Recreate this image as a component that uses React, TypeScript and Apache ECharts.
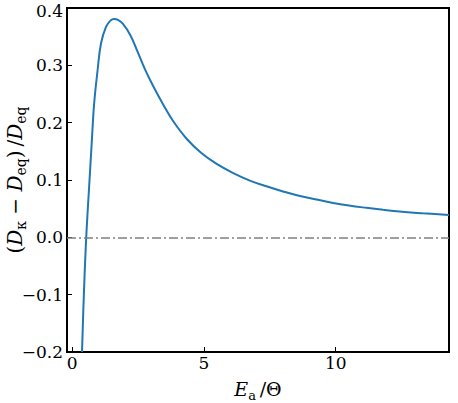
import React, { useEffect, useRef } from "react";
import * as echarts from "echarts";

const xValues = [
  0.37, 0.44, 0.53, 0.655, 0.74, 0.83, 0.96, 1.09, 1.28, 1.45, 1.59, 1.75,
  1.91, 2.2, 2.45, 2.77, 3.08, 3.46, 3.84, 4.34, 4.9, 5.48, 6.11, 6.74, 7.37,
  8.0, 8.64, 9.27, 9.9, 10.5, 11.16, 11.8, 12.42, 13.3, 14.3,
];
const yValues = [
  -0.2, -0.1, 0.0, 0.1, 0.166, 0.233, 0.291, 0.338, 0.367, 0.378, 0.381,
  0.379, 0.373, 0.353, 0.327, 0.292, 0.263, 0.231, 0.202, 0.172, 0.147, 0.128,
  0.112, 0.099, 0.089, 0.08, 0.072, 0.066, 0.06, 0.0555, 0.0515, 0.048, 0.045,
  0.042, 0.039,
];
const xTicks = [0, 5, 10];
const yMin = -0.2;
const yMax = 0.4;
const refLineY = 0;

const FONT = "DejaVu Serif";

const makeRich = (base: number, sub: number, lh: number) => ({
  i: { fontFamily: FONT, fontStyle: "italic", fontSize: base, lineHeight: lh, verticalAlign: "middle", color: "#000" },
  s: { fontFamily: FONT, fontSize: sub, lineHeight: sub, verticalAlign: "bottom", color: "#000" },
  n: { fontFamily: FONT, fontSize: base, lineHeight: lh, verticalAlign: "middle", color: "#000" },
});

export default function App() {
  const ref = useRef<HTMLDivElement>(null);
  useEffect(() => {
    if (!ref.current) return;
    const chart = echarts.init(ref.current, null, { renderer: "svg" });
    const data = xValues.map((x, i) => [x, yValues[i]]);
    chart.setOption({
      animation: false,
      backgroundColor: "#fff",
      grid: {
        left: 67,
        right: 9,
        top: 8,
        bottom: 51,
        show: true,
        borderColor: "#000",
        borderWidth: 2,
        backgroundColor: "transparent",
        containLabel: false,
        outerBoundsMode: "none",
      },
      xAxis: {
        type: "value",
        min: -0.2,
        max: 14.3,
        splitLine: { show: false },
        axisLine: { show: true, onZero: false, lineStyle: { color: "#000", width: 2 } },
        axisTick: {
          show: true,
          inside: true,
          length: 5,
          customValues: xTicks,
          lineStyle: { color: "#000", width: 1 },
        },
        axisLabel: {
          customValues: xTicks,
          color: "#000",
          fontFamily: FONT,
          fontSize: 17,
          margin: 2,
        },
        name: "{i|E}{s|a}{n|\u2009/Θ}",
        nameLocation: "middle",
        nameGap: 24,
        nameMoveOverlap: false,
        nameTextStyle: { color: "#000", rich: makeRich(19, 13, 26) },
      },
      yAxis: {
        type: "value",
        min: yMin,
        max: yMax,
        interval: 0.1,
        splitLine: { show: false },
        axisLine: { show: true, onZero: false, lineStyle: { color: "#000", width: 2 } },
        axisTick: {
          show: true,
          inside: true,
          length: 5,
          lineStyle: { color: "#000", width: 1 },
        },
        axisLabel: {
          color: "#000",
          fontFamily: FONT,
          fontSize: 17,
          lineHeight: 12,
          margin: 4,
          showMinLabel: true,
          showMaxLabel: true,
          formatter: (v: number) => {
            const s = (v < -1e-9 ? "\u2212" : "") + Math.abs(v).toFixed(1);
            return v > yMax - 1e-9 ? "{t|" + s + "}" : s;
          },
          rich: {
            t: {
              fontFamily: FONT,
              fontSize: 17,
              lineHeight: 10,
              padding: [6, 0, 0, 0],
              color: "#000",
            },
          },
        },
        name: "{n|(}{i|D}{s|κ}{n| − }{i|D}{s|eq}{n|)\u2009/}{i|D}{s|eq}",
        nameLocation: "middle",
        nameRotate: 90,
        nameGap: 39,
        nameMoveOverlap: false,
        nameTextStyle: { color: "#000", rich: makeRich(20, 14, 26) },
      },
      series: [
        {
          type: "line",
          data,
          showSymbol: false,
          smooth: 0.4,
          lineStyle: { color: "#1f77b4", width: 2 },
          itemStyle: { color: "#1f77b4" },
          markLine: {
            silent: true,
            symbol: "none",
            label: { show: false },
            lineStyle: { type: [9, 3, 2, 3], color: "#808080", width: 1.5 },
            data: [{ yAxis: refLineY }],
          },
        },
      ],
    });
    return () => chart.dispose();
  }, []);
  return <div ref={ref} style={{ width: 458, height: 403, position: "absolute", left: 0, top: 0 }} />;
}
